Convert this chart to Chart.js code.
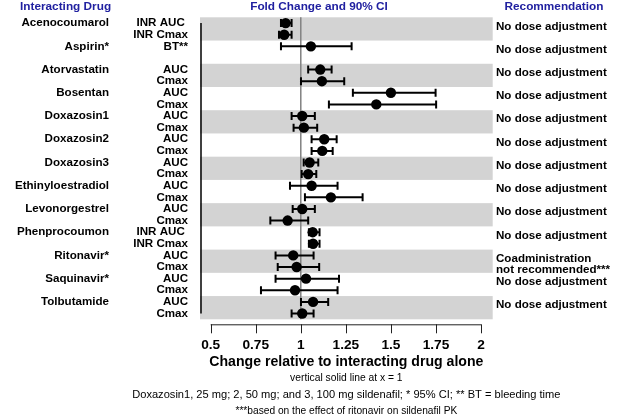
<!DOCTYPE html>
<html><head><meta charset="utf-8">
<script src="https://cdn.jsdelivr.net/npm/chart.js@4.4.1/dist/chart.umd.min.js"></script>
<style>html,body{margin:0;padding:0;background:#fff;}#wrap{width:624px;height:420px;}</style>
</head><body><div id="wrap"><canvas id="c" width="624" height="420"></canvas></div>
<script>
const drugs = ["Acenocoumarol","Aspirin*","Atorvastatin","Bosentan","Doxazosin1","Doxazosin2","Doxazosin3","Ethinyloestradiol","Levonorgestrel","Phenprocoumon","Ritonavir*","Saquinavir*","Tolbutamide"];
const rowLabels = ["INR AUC ","INR Cmax","BT**","","AUC","Cmax","AUC","Cmax","AUC","Cmax","AUC","Cmax","AUC","Cmax","AUC","Cmax","AUC","Cmax","INR AUC ","INR Cmax","AUC","Cmax","AUC","Cmax","AUC","Cmax"];
const estimates = [0.916,0.908,1.056,null,1.108,1.117,1.500,1.419,1.008,1.017,1.130,1.119,1.049,1.041,1.060,1.167,1.008,0.927,1.066,1.068,0.958,0.977,1.029,0.968,1.068,1.008];
const lower = [0.890,0.879,0.890,null,1.041,1.001,1.289,1.156,0.949,0.960,1.060,1.060,1.016,1.005,0.940,1.023,0.955,0.831,1.045,1.045,0.860,0.872,0.860,0.779,1.001,0.949];
const upper = [0.949,0.949,1.282,null,1.171,1.241,1.748,1.751,1.078,1.091,1.199,1.177,1.097,1.086,1.204,1.343,1.078,1.041,1.104,1.104,1.071,1.102,1.212,1.204,1.152,1.071];
const recommendations = ["No dose adjustment","No dose adjustment","No dose adjustment","No dose adjustment","No dose adjustment","No dose adjustment","No dose adjustment","No dose adjustment","No dose adjustment","No dose adjustment","Coadministration\nnot recommended***","No dose adjustment","No dose adjustment"];
const xTicks = [0.5,0.75,1,1.25,1.5,1.75,2];
const refLine = 1;

const points = [];
estimates.forEach((v,i)=>{ if(v!==null) points.push({x:v,y:i+0.5,lo:lower[i],hi:upper[i]}); });

const BOLD = "bold 11.6px 'Liberation Sans', Arial, sans-serif";
const BLUE = "#2020a0";

const deco = {
  id:'deco',
  beforeDatasetsDraw(chart){
    const ctx = chart.ctx, xs = chart.scales.x, ys = chart.scales.y, ca = chart.chartArea;
    ctx.save();
    // bands
    ctx.fillStyle = '#d3d3d3';
    drugs.forEach((d,i)=>{
      if(i%2===0){
        const t = ys.getPixelForValue(2*i), b = ys.getPixelForValue(2*i+2);
        ctx.fillRect(ca.left, t, ca.right-ca.left, b-t);
      }
    });
    // ref line
    const rx = xs.getPixelForValue(refLine);
    ctx.strokeStyle = '#808080'; ctx.lineWidth = 1.5;
    ctx.beginPath(); ctx.moveTo(rx, ca.top); ctx.lineTo(rx, ca.bottom); ctx.stroke();
    // left axis line
    ctx.strokeStyle = '#000'; ctx.lineWidth = 1.5;
    const lx = ca.left + 1;
    ctx.beginPath(); ctx.moveTo(lx, ys.getPixelForValue(0.5)); ctx.lineTo(lx, ys.getPixelForValue(rowLabels.length-0.5)); ctx.stroke();
    // x axis
    const ay = ca.bottom + 5;
    ctx.lineWidth = 1;
    ctx.strokeStyle = '#222';
    ctx.beginPath();
    ctx.moveTo(xs.getPixelForValue(xTicks[0]), ay+0.5); ctx.lineTo(xs.getPixelForValue(xTicks[xTicks.length-1]), ay+0.5);
    xTicks.forEach(t=>{ const px = Math.round(xs.getPixelForValue(t))+0.5; ctx.moveTo(px, ay); ctx.lineTo(px, ay+9); });
    ctx.stroke();
    ctx.fillStyle = '#000'; ctx.font = "bold 13.7px 'Liberation Sans', Arial, sans-serif";
    ctx.textAlign = 'center'; ctx.textBaseline = 'middle';
    xTicks.forEach(t=>{ ctx.fillText(String(t), xs.getPixelForValue(t), 345.5); });
    const cx = (ca.left+ca.right)/2;
    ctx.font = "bold 14.1px 'Liberation Sans', Arial, sans-serif";
    ctx.fillText("Change relative to interacting drug alone", cx, 362.5);
    ctx.font = "10.3px 'Liberation Sans', Arial, sans-serif";
    ctx.fillText("vertical solid line at x = 1", cx, 378.5);
    ctx.font = "11.1px 'Liberation Sans', Arial, sans-serif";
    ctx.fillText("Doxazosin1, 25 mg; 2, 50 mg; and 3, 100 mg sildenafil; * 95% CI; ** BT = bleeding time", cx, 395);
    ctx.font = "10.2px 'Liberation Sans', Arial, sans-serif";
    ctx.fillText("***based on the effect of ritonavir on sildenafil PK", cx, 411);
    // headers
    ctx.fillStyle = BLUE; ctx.font = "bold 11.8px 'Liberation Sans', Arial, sans-serif";
    ctx.textAlign = 'left';
    ctx.fillText("Interacting Drug", 20, 7);
    ctx.textAlign = 'center';
    ctx.fillText("Fold Change and 90% CI", 319, 7);
    ctx.fillText("Recommendation", 554, 7);
    // drug labels
    ctx.fillStyle = '#000'; ctx.font = BOLD;
    ctx.textAlign = 'right';
    drugs.forEach((d,i)=>{ ctx.fillText(d, 109, ys.getPixelForValue(2*i+0.5)); });
    rowLabels.forEach((r,i)=>{ if(r) ctx.fillText(r, 188, ys.getPixelForValue(i+0.5)); });
    // recommendations
    ctx.textAlign = 'left';
    recommendations.forEach((r,i)=>{
      const lines = r.split('\n');
      const base = ys.getPixelForValue(2*i) + 9;
      lines.forEach((l,k)=>{ ctx.fillText(l, 496, base + k*11.5); });
    });
    // error bars
    ctx.strokeStyle = '#000'; ctx.lineWidth = 2;
    points.forEach(p=>{
      const y = ys.getPixelForValue(p.y), x1 = xs.getPixelForValue(p.lo), x2 = xs.getPixelForValue(p.hi);
      ctx.beginPath();
      ctx.moveTo(x1, y); ctx.lineTo(x2, y);
      ctx.moveTo(x1, y-4); ctx.lineTo(x1, y+4);
      ctx.moveTo(x2, y-4); ctx.lineTo(x2, y+4);
      ctx.stroke();
    });
    ctx.restore();
  }
};

new Chart(document.getElementById('c'), {
  type:'scatter',
  data:{ datasets:[{ data: points, pointRadius:5.2, pointHoverRadius:5.2, backgroundColor:'#000', borderColor:'#000', borderWidth:0 }]},
  options:{
    responsive:false, animation:false, events:[],
    layout:{ padding:{ left:200, right:131.3, top:17.3, bottom:100.7 } },
    plugins:{ legend:{display:false}, tooltip:{enabled:false} },
    scales:{
      x:{ type:'linear', display:false, min:0.4407, max:2.0649 },
      y:{ type:'linear', display:false, min:0, max:26, reverse:true }
    }
  },
  plugins:[deco]
});
</script></body></html>
